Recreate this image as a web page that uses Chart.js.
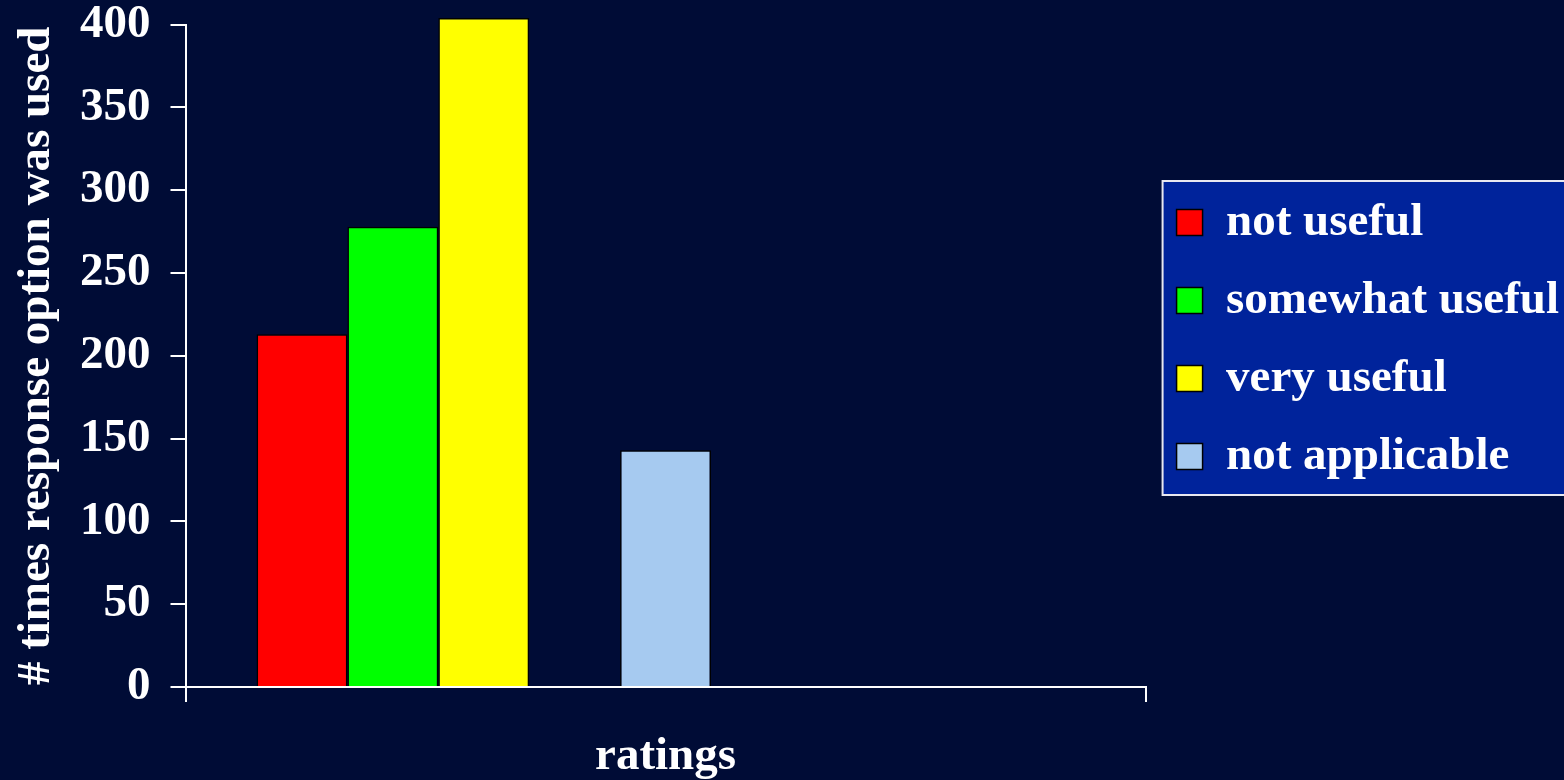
<!DOCTYPE html>
<html>
<head>
<meta charset="utf-8">
<script src="https://cdn.jsdelivr.net/npm/chart.js@4/dist/chart.umd.min.js"></script>
<style>
  body { margin: 0; background: #000c36; }
  #wrap { width: 1564px; height: 780px; }
</style>
</head>
<body>
<div id="wrap"><canvas id="myChart" width="1564" height="780"></canvas></div>
<script>
// data
const categories = ['ratings'];
const seriesNames = ['not useful', 'somewhat useful', 'very useful', 'not applicable'];
const seriesValues = [213, 278, 404, 143];
const seriesColors = ['#ff0000', '#00ff00', '#ffff00', '#a6caf0'];
// slot order in the group: -1 = empty slot
const slotOrder = [0, 1, 2, -1, 3, -1, -1, -1, -1];
const yTicks = [0, 50, 100, 150, 200, 250, 300, 350, 400];

const font = 'Liberation Serif, Times New Roman, serif';

const datasets = slotOrder.map(function (s) {
    if (s < 0) {
        return { label: '', data: [null], backgroundColor: 'rgba(0,0,0,0)', borderWidth: 0 };
    }
    return {
        label: seriesNames[s],
        data: [seriesValues[s]],
        backgroundColor: seriesColors[s],
        borderColor: '#000000',
        borderWidth: 1.5,
        borderSkipped: 'bottom',
        clip: false
    };
});

// background + legend frame
const bgPlugin = {
    id: 'bg',
    beforeDraw: function (chart) {
        const ctx = chart.ctx;
        ctx.save();
        ctx.fillStyle = '#000c36';
        ctx.fillRect(0, 0, chart.width, chart.height);
        const boxes = chart.legend.legendHitBoxes;
        if (boxes && boxes.length) {
            const first = boxes[0], last = boxes[boxes.length - 1];
            const l = first.left - 14;
            const t = first.top - 18;
            const b = last.top + 62;
            ctx.fillStyle = '#00239b';
            ctx.fillRect(l, t, chart.width + 10 - l, b - t);
            ctx.strokeStyle = '#e8e8f0';
            ctx.lineWidth = 2;
            ctx.strokeRect(l, t, chart.width + 10 - l, b - t);
        }
        ctx.restore();
    }
};

const ctx = document.getElementById('myChart').getContext('2d');
const myChart = new Chart(ctx, {
    type: 'bar',
    data: {
        labels: categories,
        datasets: datasets
    },
    plugins: [bgPlugin],
    options: {
        responsive: false,
        animation: false,
        layout: { padding: { top: 0, right: -5, bottom: 0, left: 0 } },
        datasets: {
            bar: { categoryPercentage: 0.852, barPercentage: 1.0 }
        },
        plugins: {
            tooltip: { enabled: false },
            legend: {
                position: 'right',
                align: 'start',
                maxWidth: 440,
                title: {
                    display: true,
                    text: ' ',
                    font: { size: 10, lineHeight: 1 },
                    padding: { top: 0, bottom: 158 }
                },
                labels: {
                    color: '#ffffff',
                    boxWidth: 26,
                    boxHeight: 26,
                    padding: 31,
                    font: { family: font, size: 47, weight: 'bold' },
                    filter: function (item) { return item.text !== ''; }
                }
            }
        },
        scales: {
            x: {
                grid: {
                    drawOnChartArea: false,
                    color: '#ffffff',
                    lineWidth: 2,
                    tickLength: 15
                },
                border: { color: '#ffffff', width: 2 },
                ticks: { display: false },
                title: {
                    display: true,
                    text: 'ratings',
                    color: '#ffffff',
                    font: { family: font, size: 47, weight: 'bold', lineHeight: 1 },
                    padding: { top: 31, bottom: 0 }
                }
            },
            y: {
                min: 0,
                max: 400,
                afterBuildTicks: function (axis) {
                    axis.ticks = yTicks.map(function (v) { return { value: v }; });
                },
                grid: {
                    drawOnChartArea: false,
                    color: '#ffffff',
                    lineWidth: 2,
                    tickLength: 15
                },
                border: { color: '#ffffff', width: 2 },
                ticks: {
                    color: '#ffffff',
                    padding: 20,
                    font: { family: font, size: 47, weight: 'bold', lineHeight: 0.2 }
                },
                title: {
                    display: true,
                    text: '# times response option was used',
                    color: '#ffffff',
                    font: { family: font, size: 47, weight: 'bold', lineHeight: 1 },
                    padding: { top: 13, bottom: 0 }
                }
            }
        }
    }
});
</script>
</body>
</html>
